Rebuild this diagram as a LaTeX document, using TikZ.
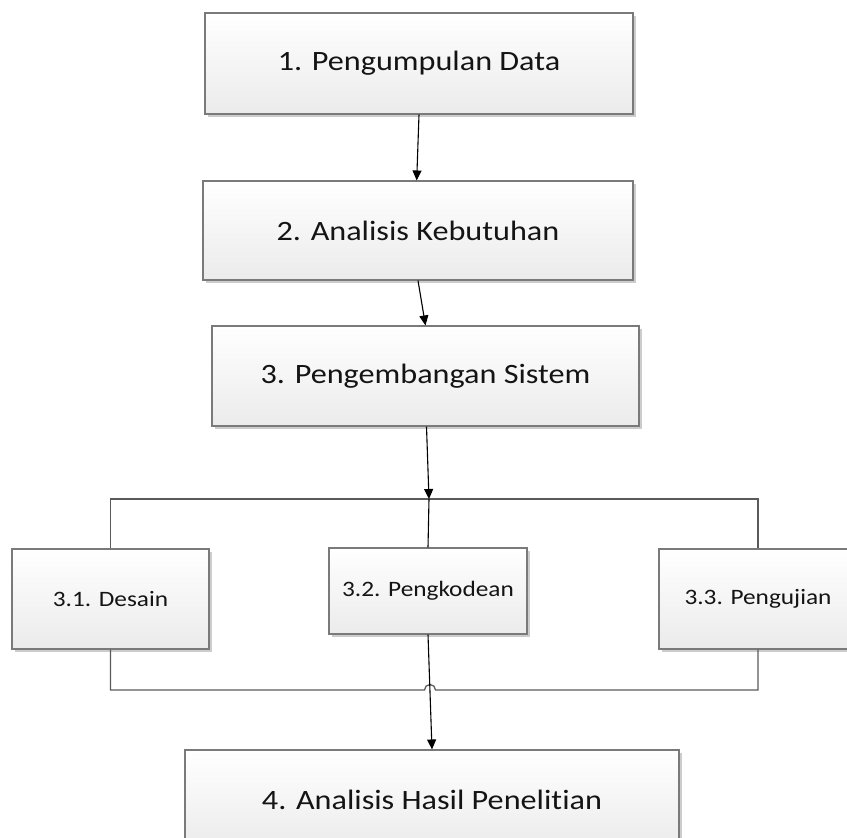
\documentclass[tikz,border=0pt]{standalone}
\usepackage{fontspec}
\setmainfont{Carlito}[FakeStretch=1.15, Ligatures={NoCommon}]
\usetikzlibrary{arrows.meta,shadows}

\definecolor{boxline}{HTML}{7A7A7A}
\definecolor{boxfill}{HTML}{EBEBEB}
\definecolor{bracketline}{HTML}{5A5A5A}

\begin{document}
\begin{tikzpicture}[x=1pt,y=-1pt,
  stage/.style={draw=boxline, line width=1.1pt, top color=white, bottom color=boxfill,
    drop shadow={shadow xshift=2.5pt, shadow yshift=-2.5pt, fill=black, opacity=0.2},
    inner sep=0pt, text=black!92, font=\fontsize{28}{32}\selectfont},
  substage/.style={stage, font=\fontsize{22}{26}\selectfont},
  flow/.style={draw=black, line width=1.1pt, -{Triangle[length=10pt,width=9pt]}},
  link/.style={draw=black, line width=1.1pt},
  bracket/.style={draw=bracketline, line width=1.3pt}]
\useasboundingbox (0,0) rectangle (847,838);
\clip (0,0) rectangle (847,838);

% main stages
\node[stage, minimum width=428pt, minimum height=101pt] (b1) at (419,63.5) {1. Pengumpulan Data};
\node[stage, minimum width=430pt, minimum height=99pt] (b2) at (418,230.5) {2. Analisis Kebutuhan};
\node[stage, minimum width=427pt, minimum height=100pt] (b3) at (425.5,376) {3. Pengembangan Sistem};

% sub-stages of the development
\node[substage, minimum width=197pt, minimum height=100pt] (b31) at (110.5,599) {3.1. Desain};
\node[substage, minimum width=198pt, minimum height=86pt] (b32) at (428,591) {3.2. Pengkodean};
\node[substage, minimum width=198pt, minimum height=100pt] (b33) at (758,599) {3.3. Pengujian};

\node[stage, minimum width=494pt, minimum height=100pt] (b4) at (432,800) {4. Analisis Hasil Penelitian};

% junction points on the brackets
\coordinate (tb) at (429,499);
\coordinate (bb) at (430,690);

% brackets grouping the sub-stages
\draw[bracket] (b31.north) |- (tb) -| (b33.north);
\draw[bracket] (b31.south) |- ([xshift=-5.5pt]bb)
  arc[start angle=180, end angle=0, radius=5.5pt] -| (b33.south);

% flow between the stages
\draw[flow] (b1.south) -- ([xshift=-1.3pt]b2.north);
\draw[flow] (b2.south) -- (b3.north);
\draw[flow] ([xshift=1pt]b3.south) -- (tb);
\draw[link] (tb) -- (b32.north);
\draw[flow] (b32.south) -- (b4.north);
\end{tikzpicture}
\end{document}
